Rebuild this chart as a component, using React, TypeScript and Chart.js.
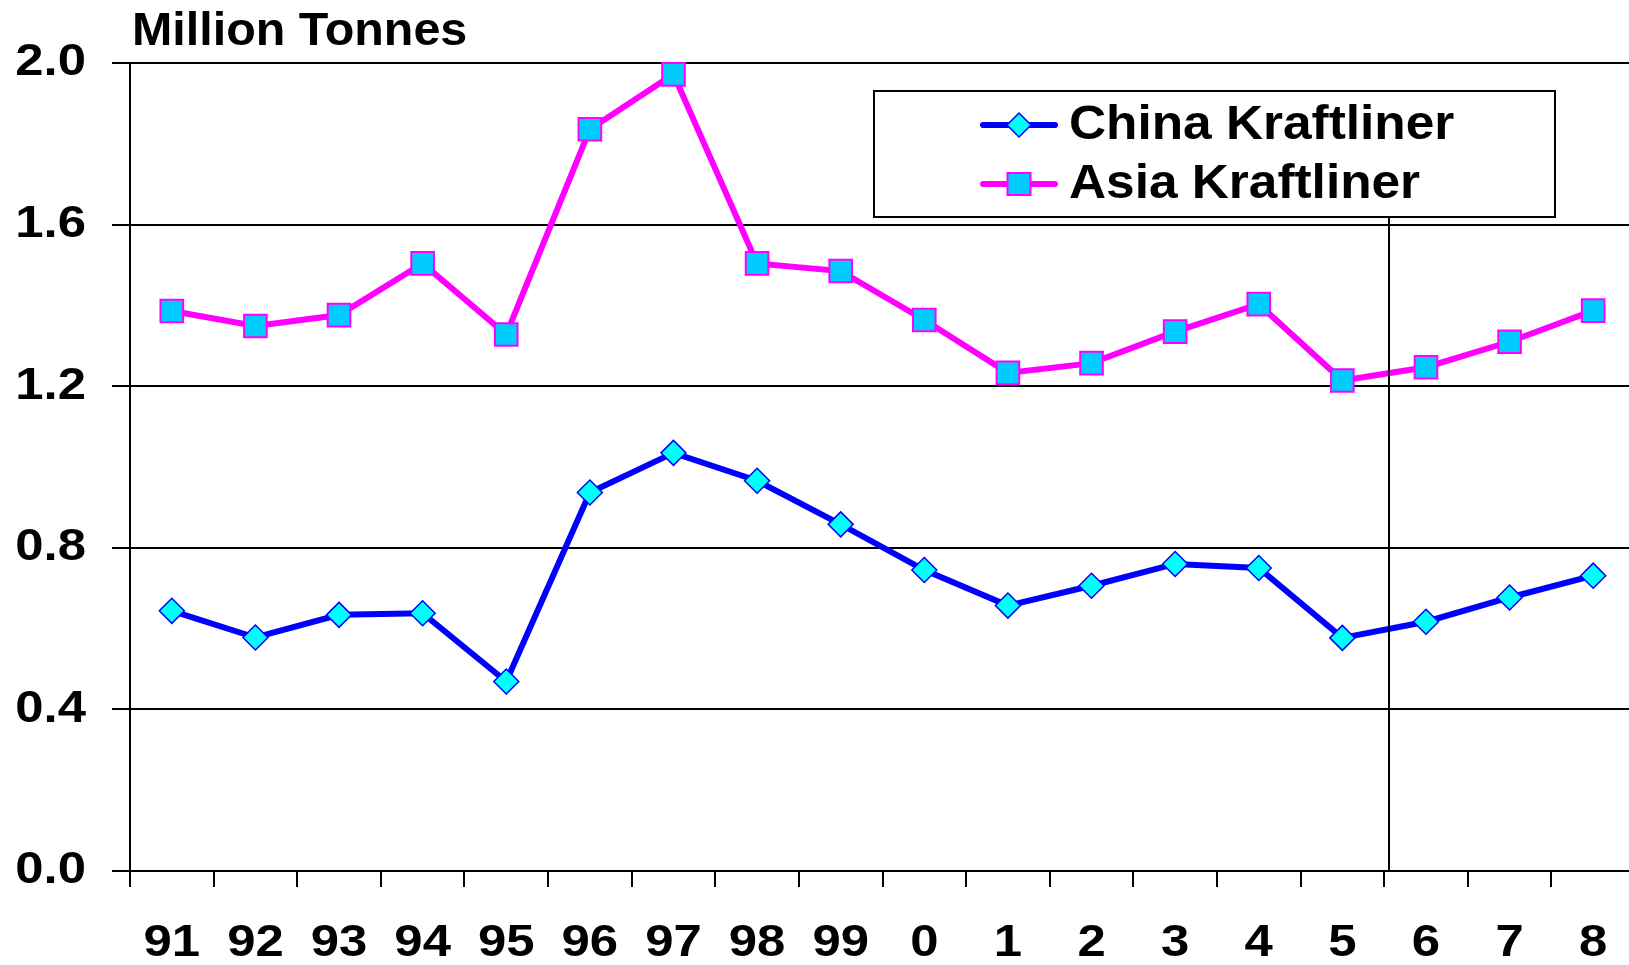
import React, { useEffect, useRef } from 'react';
import { Chart, registerables } from 'chart.js';

Chart.register(...registerables);

// ---- data ----
const years = ['91', '92', '93', '94', '95', '96', '97', '98', '99', '0', '1', '2', '3', '4', '5', '6', '7', '8'];
const chinaKraftliner = [0.644, 0.578, 0.634, 0.638, 0.469, 0.937, 1.035, 0.966, 0.858, 0.745, 0.657, 0.706, 0.760, 0.750, 0.577, 0.617, 0.677, 0.731];
const asiaKraftliner = [1.386, 1.349, 1.376, 1.504, 1.328, 1.836, 1.972, 1.504, 1.485, 1.364, 1.233, 1.257, 1.335, 1.403, 1.214, 1.247, 1.310, 1.387];
const seriesNames = ['China Kraftliner', 'Asia Kraftliner'];
const unitLabel = 'Million Tonnes';
const yMin = 0;
const yMax = 2.0;
const yStep = 0.4;
const forecastBoundary = 14.56; // between '5' and '6'
const forecastLineTop = 1.626;

const FONT = '"Liberation Sans", Arial, sans-serif';
const TICK_STRETCH = 1.13;

// Widen the axis tick labels horizontally (the original uses a wide bold face)
const stretchTicksPlugin = {
  id: 'stretchTicks',
  beforeDraw(chart: any) {
    const ctx = chart.ctx;
    if (ctx.__origFillText) return;
    const orig = ctx.fillText;
    ctx.__origFillText = orig;
    ctx.fillText = function (text: string, x: number, y: number, maxWidth?: number) {
      this.save();
      this.translate(x, y);
      this.scale(TICK_STRETCH, 1);
      if (maxWidth === undefined || maxWidth === null) orig.call(this, text, 0, 0);
      else orig.call(this, text, 0, 0, maxWidth / TICK_STRETCH);
      this.restore();
    };
  },
  beforeDatasetsDraw(chart: any) {
    const ctx = chart.ctx;
    if (ctx.__origFillText) {
      ctx.fillText = ctx.__origFillText;
      delete ctx.__origFillText;
    }
  },
};

const overlayPlugin = {
  id: 'overlay',
  afterDatasetsDraw(chart: any) {
    const ctx = chart.ctx;
    const x = chart.scales.x;
    const y = chart.scales.y;
    ctx.save();
    // forecast separator line
    const lx = Math.round(x.getPixelForValue(forecastBoundary));
    ctx.strokeStyle = '#000';
    ctx.lineWidth = 2;
    ctx.beginPath();
    ctx.moveTo(lx, y.getPixelForValue(forecastLineTop));
    ctx.lineTo(lx, chart.chartArea.bottom);
    ctx.stroke();

    // unit label
    ctx.fillStyle = '#000';
    ctx.font = `bold 47px ${FONT}`;
    ctx.textAlign = 'left';
    ctx.textBaseline = 'alphabetic';
    ctx.save();
    ctx.translate(132, 45);
    ctx.scale(1.03, 1);
    ctx.fillText(unitLabel, 0, 0);
    ctx.restore();

    // legend box
    const bx = 874, by = 91, bw = 681, bh = 126;
    ctx.fillStyle = '#fff';
    ctx.fillRect(bx, by, bw, bh);
    ctx.strokeStyle = '#000';
    ctx.lineWidth = 2;
    ctx.strokeRect(bx, by, bw, bh);

    const rows = [125, 184];
    const lineX0 = 983, lineX1 = 1055, mx = 1019;
    // China row
    ctx.strokeStyle = '#0000FF';
    ctx.lineWidth = 6;
    ctx.lineCap = 'round';
    ctx.beginPath();
    ctx.moveTo(lineX0, rows[0]);
    ctx.lineTo(lineX1, rows[0]);
    ctx.stroke();
    ctx.beginPath();
    ctx.moveTo(mx - 12, rows[0]);
    ctx.lineTo(mx, rows[0] - 12);
    ctx.lineTo(mx + 12, rows[0]);
    ctx.lineTo(mx, rows[0] + 12);
    ctx.closePath();
    ctx.fillStyle = '#00FFFF';
    ctx.fill();
    ctx.lineWidth = 1.5;
    ctx.strokeStyle = '#0000FF';
    ctx.stroke();
    // Asia row
    ctx.strokeStyle = '#FF00FF';
    ctx.lineWidth = 6;
    ctx.beginPath();
    ctx.moveTo(lineX0, rows[1]);
    ctx.lineTo(lineX1, rows[1]);
    ctx.stroke();
    ctx.fillStyle = '#00CCFF';
    ctx.fillRect(mx - 11.5, rows[1] - 11, 23, 22);
    ctx.lineWidth = 2;
    ctx.strokeStyle = '#FF00FF';
    ctx.strokeRect(mx - 11.5, rows[1] - 11, 23, 22);

    ctx.fillStyle = '#000';
    ctx.font = `bold 48px ${FONT}`;
    ctx.textBaseline = 'middle';
    for (let i = 0; i < 2; i++) {
      ctx.save();
      ctx.translate(1069, rows[i] + 1);
      ctx.scale(1.07, 1);
      ctx.fillText(seriesNames[i], 0, 0);
      ctx.restore();
    }
    ctx.restore();
  },
};

export default function App() {
  const ref = useRef<HTMLCanvasElement>(null);
  useEffect(() => {
    if (!ref.current) return;
    const chart = new Chart(ref.current, {
      type: 'line',
      data: {
        labels: years,
        datasets: [
          {
            label: seriesNames[0],
            data: chinaKraftliner,
            borderColor: '#0000FF',
            borderWidth: 6,
            pointStyle: 'rectRot',
            pointRadius: 12.5,
            pointBackgroundColor: '#00FFFF',
            pointBorderColor: '#0000FF',
            pointBorderWidth: 1.5,
            tension: 0,
            clip: false as any,
          },
          {
            label: seriesNames[1],
            data: asiaKraftliner,
            borderColor: '#FF00FF',
            borderWidth: 6,
            pointStyle: 'rect',
            pointRadius: 16,
            pointBackgroundColor: '#00CCFF',
            pointBorderColor: '#FF00FF',
            pointBorderWidth: 2,
            tension: 0,
            clip: false as any,
          },
        ],
      },
      options: {
        responsive: false,
        animation: false,
        layout: { padding: { top: 63, right: 5, left: 0, bottom: 0 } },
        plugins: { legend: { display: false }, tooltip: { enabled: false } },
        scales: {
          x: {
            type: 'category',
            offset: true,
            grid: { offset: true, drawOnChartArea: false, drawTicks: true, tickLength: 16, color: '#000', lineWidth: 2 },
            border: { display: true, color: '#000', width: 2 },
            ticks: { color: '#000', font: { family: FONT, size: 45, weight: 'bold' }, padding: 30, maxRotation: 0, autoSkip: false },
            afterFit: (s: any) => { s.height = 94; },
          },
          y: {
            min: yMin,
            max: yMax,
            ticks: {
              stepSize: yStep,
              color: '#000',
              font: { family: FONT, size: 45, weight: 'bold' },
              padding: 26,
              callback: (v: any) => Number(v).toFixed(1),
            },
            grid: { color: '#000', lineWidth: 2, tickLength: 18, drawTicks: true },
            border: { display: true, color: '#000', width: 2 },
            afterFit: (s: any) => { s.width = 130; },
          },
        },
      },
      plugins: [stretchTicksPlugin, overlayPlugin],
    });
    return () => chart.destroy();
  }, []);
  return (
    <div style={{ position: 'fixed', left: 0, top: 0, width: 1629, height: 965, overflow: 'hidden', background: '#fff' }}>
      <canvas ref={ref} width={1653} height={965} style={{ display: 'block' }} />
    </div>
  );
}
